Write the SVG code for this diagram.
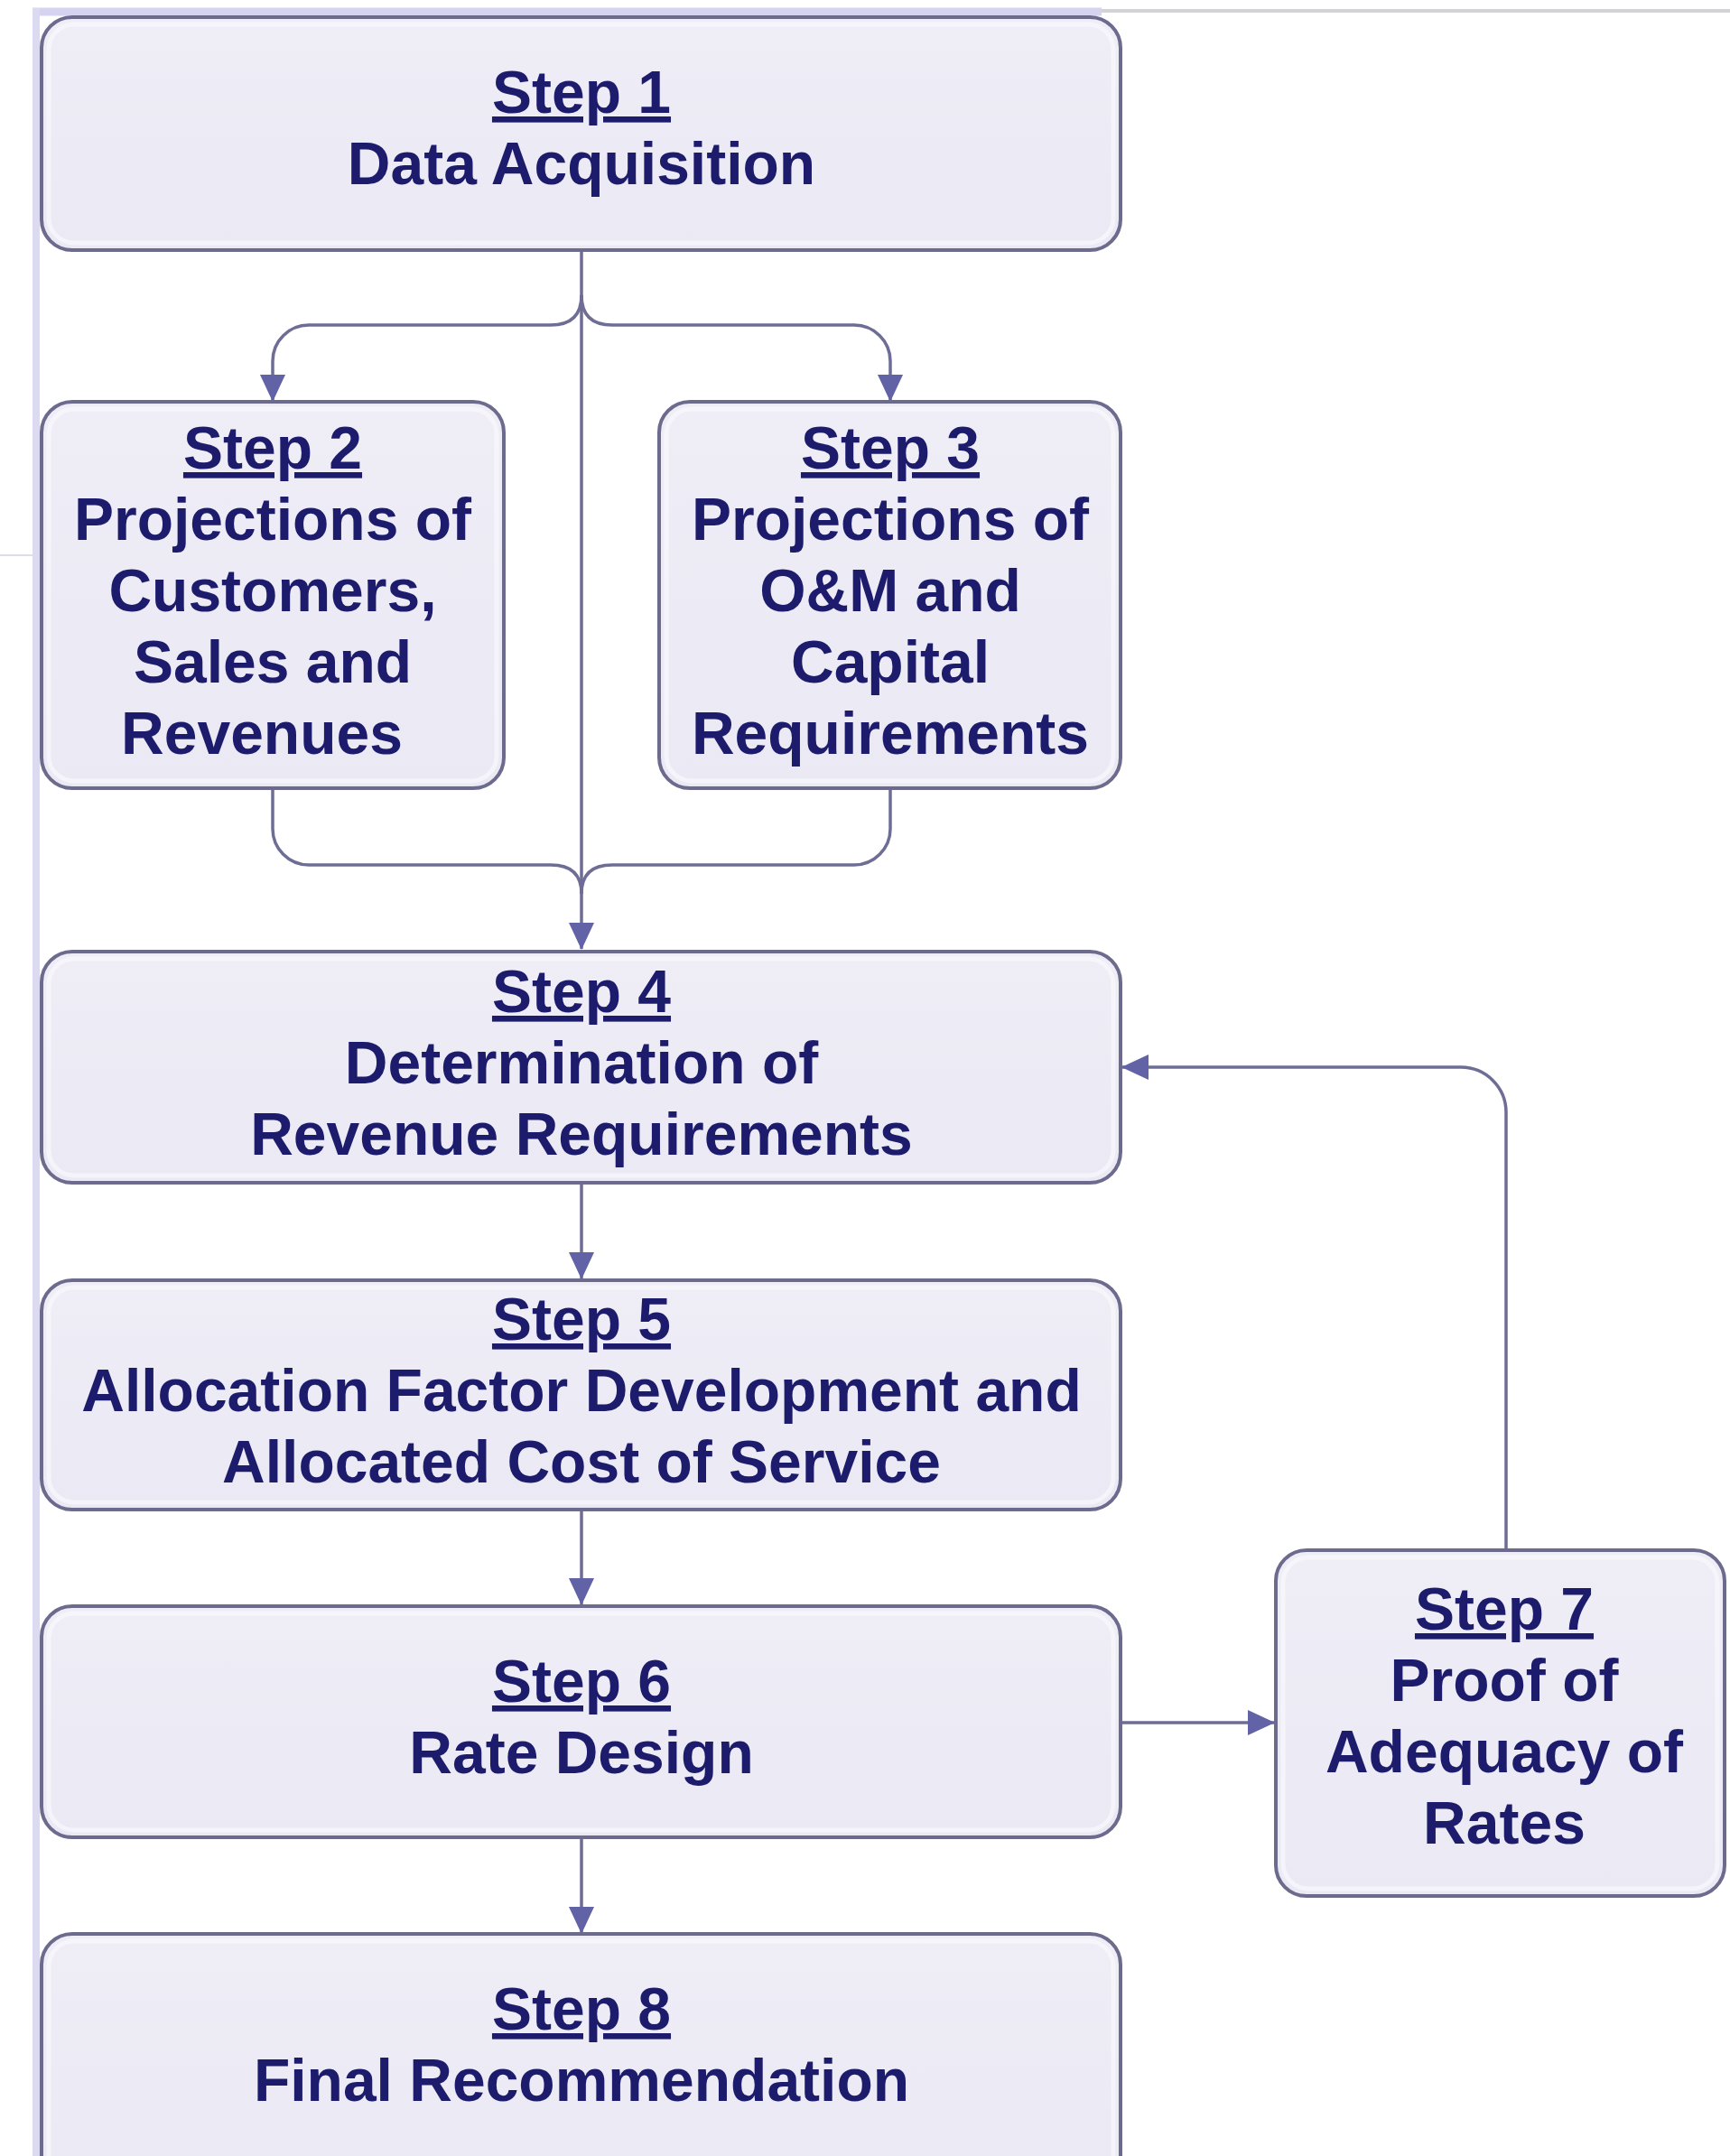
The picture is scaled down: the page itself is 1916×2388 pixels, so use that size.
<svg xmlns="http://www.w3.org/2000/svg" width="1916" height="2388" viewBox="0 0 1916 2388">
  <defs>
    <marker id="arrow" markerUnits="userSpaceOnUse" markerWidth="30" markerHeight="28" refX="29" refY="14" orient="auto">
      <path d="M0,0 L30,14 L0,28 Z" fill="#6262a6"/>
    </marker>
    <linearGradient id="boxFill" x1="0" y1="0" x2="0" y2="1">
      <stop offset="0" stop-color="#efeef7"/>
      <stop offset="1" stop-color="#eae9f4"/>
    </linearGradient>
  </defs>
  <style>
    .box { fill: url(#boxFill); stroke: #6c6b8e; stroke-width: 4; }
    .inner { fill: none; stroke: #f6f6fb; stroke-width: 5; opacity: 0.8; }
    .label { font-family: "Liberation Sans", Arial, sans-serif; font-weight: bold; font-size: 66px; fill: #1d1b6c; text-anchor: middle; }
    .head { text-decoration: underline; }
    .link { fill: none; stroke: #6e6d96; stroke-width: 3.5; }
    .frame { fill: none; }
  </style>

  <rect x="0" y="0" width="1916" height="2388" fill="#ffffff"/>

  <!-- page frame lines -->
  <g id="frame">
    <line x1="1200" y1="12" x2="1916" y2="12" stroke="#d2d2d8" stroke-width="4"/>
    <line x1="36" y1="13" x2="1220" y2="13" stroke="#d6d3f0" stroke-width="9"/>
    <line x1="40" y1="9" x2="40" y2="2388" stroke="#dcdaf0" stroke-width="8"/>
    <line x1="0" y1="615" x2="36" y2="615" stroke="#dedee4" stroke-width="2"/>
  </g>

  <!-- connectors -->
  <g id="connectors">
    <path class="link" d="M644,277 V1051" marker-end="url(#arrow)"/>
    <path class="link" d="M644,327 C644,350 632,360 610,360 H342 A40,40 0 0 0 302,400 V444" marker-end="url(#arrow)"/>
    <path class="link" d="M644,327 C644,350 656,360 678,360 H946 A40,40 0 0 1 986,400 V444" marker-end="url(#arrow)"/>
    <path class="link" d="M302,873 V918 A40,40 0 0 0 342,958 H610 C632,958 644,968 644,990"/>
    <path class="link" d="M986,873 V918 A40,40 0 0 1 946,958 H678 C656,958 644,968 644,990"/>
    <path class="link" d="M644,1310 V1416" marker-end="url(#arrow)"/>
    <path class="link" d="M644,1672 V1777" marker-end="url(#arrow)"/>
    <path class="link" d="M644,2035 V2141" marker-end="url(#arrow)"/>
    <path class="link" d="M1242,1908 H1411" marker-end="url(#arrow)"/>
    <path class="link" d="M1668,1717 V1232 A50,50 0 0 0 1618,1182 H1243" marker-end="url(#arrow)"/>
  </g>

  <g id="step1">
    <rect class="box" x="46" y="19" width="1195" height="258" rx="34"/>
    <rect class="inner" x="54" y="27" width="1179" height="242" rx="28"/>
    <text class="label" x="644" y="125"><tspan class="head">Step 1</tspan></text>
    <text class="label" x="644" y="204">Data Acquisition</text>
  </g>

  <g id="step2">
    <rect class="box" x="46" y="445" width="512" height="428" rx="34"/>
    <rect class="inner" x="54" y="453" width="496" height="412" rx="28"/>
    <text class="label" x="302" y="519"><tspan class="head">Step 2</tspan></text>
    <text class="label" x="302" y="598">Projections of</text>
    <text class="label" x="302" y="677">Customers,</text>
    <text class="label" x="302" y="756">Sales and</text>
    <text class="label" x="290" y="835">Revenues</text>
  </g>

  <g id="step3">
    <rect class="box" x="730" y="445" width="511" height="428" rx="34"/>
    <rect class="inner" x="738" y="453" width="495" height="412" rx="28"/>
    <text class="label" x="986" y="519"><tspan class="head">Step 3</tspan></text>
    <text class="label" x="986" y="598">Projections of</text>
    <text class="label" x="986" y="677">O&amp;M and</text>
    <text class="label" x="986" y="756">Capital</text>
    <text class="label" x="986" y="835">Requirements</text>
  </g>

  <g id="step4">
    <rect class="box" x="46" y="1054" width="1195" height="256" rx="34"/>
    <rect class="inner" x="54" y="1062" width="1179" height="240" rx="28"/>
    <text class="label" x="644" y="1121"><tspan class="head">Step 4</tspan></text>
    <text class="label" x="644" y="1200">Determination of</text>
    <text class="label" x="644" y="1279">Revenue Requirements</text>
  </g>

  <g id="step5">
    <rect class="box" x="46" y="1418" width="1195" height="254" rx="34"/>
    <rect class="inner" x="54" y="1426" width="1179" height="238" rx="28"/>
    <text class="label" x="644" y="1484"><tspan class="head">Step 5</tspan></text>
    <text class="label" x="644" y="1563">Allocation Factor Development and</text>
    <text class="label" x="644" y="1642">Allocated Cost of Service</text>
  </g>

  <g id="step6">
    <rect class="box" x="46" y="1779" width="1195" height="256" rx="34"/>
    <rect class="inner" x="54" y="1787" width="1179" height="240" rx="28"/>
    <text class="label" x="644" y="1885"><tspan class="head">Step 6</tspan></text>
    <text class="label" x="644" y="1964">Rate Design</text>
  </g>

  <g id="step7">
    <rect class="box" x="1413" y="1717" width="497" height="383" rx="34"/>
    <rect class="inner" x="1421" y="1725" width="481" height="367" rx="28"/>
    <text class="label" x="1666" y="1805"><tspan class="head">Step 7</tspan></text>
    <text class="label" x="1666" y="1884">Proof of</text>
    <text class="label" x="1666" y="1963">Adequacy of</text>
    <text class="label" x="1666" y="2042">Rates</text>
  </g>

  <g id="step8">
    <rect class="box" x="46" y="2142" width="1195" height="290" rx="34"/>
    <rect class="inner" x="54" y="2150" width="1179" height="274" rx="28"/>
    <text class="label" x="644" y="2248"><tspan class="head">Step 8</tspan></text>
    <text class="label" x="644" y="2327">Final Recommendation</text>
  </g>
</svg>
